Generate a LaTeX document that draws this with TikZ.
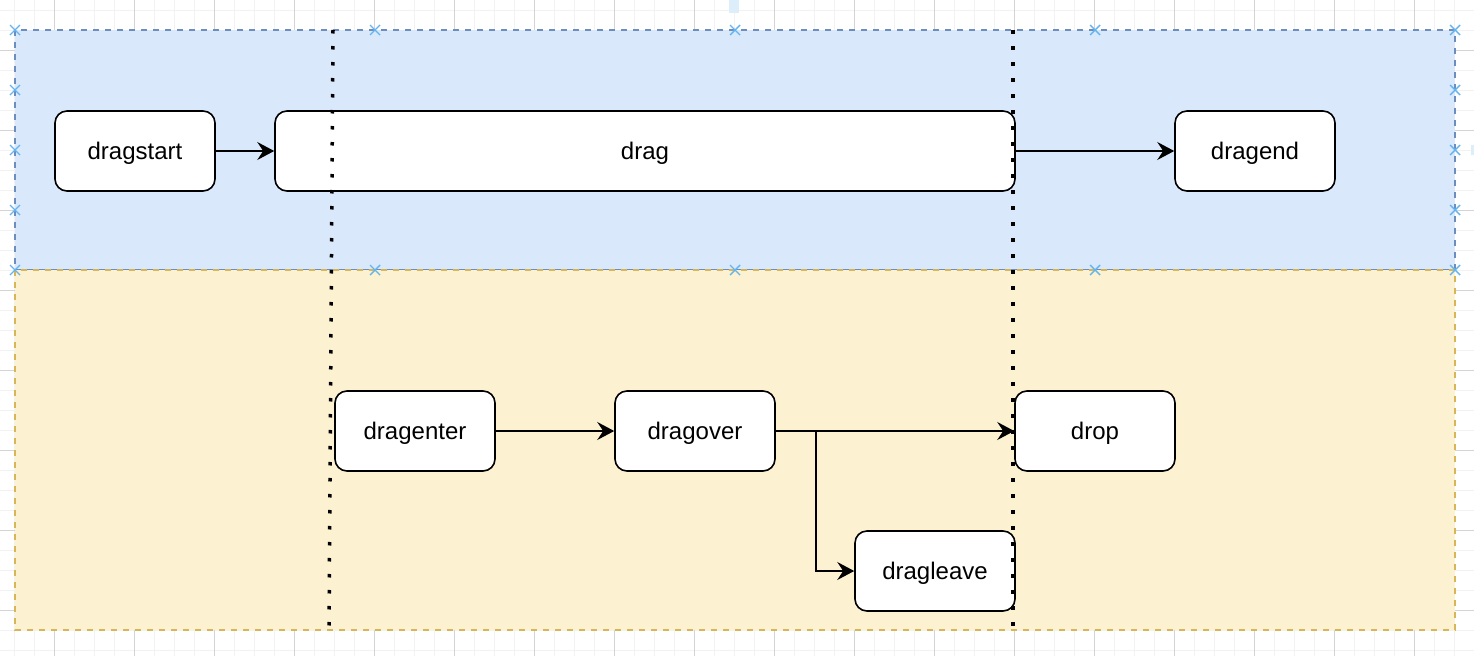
\documentclass[tikz,border=0pt]{standalone}
\usepackage{fontspec}
\setmainfont{Liberation Sans}
\usetikzlibrary{arrows.meta}
\definecolor{bluefill}{HTML}{DAE8FC}
\definecolor{bluedraw}{HTML}{6C8EBF}
\definecolor{yellowfill}{HTML}{FCF1D0}
\definecolor{yellowdraw}{HTML}{D6B656}
\definecolor{handle}{RGB}{100,180,240}
\definecolor{faintblue}{RGB}{220,238,250}
\definecolor{gridminor}{HTML}{F2F2F2}
\definecolor{gridmajor}{HTML}{D4D4D4}
\tikzset{
  evbox/.style={draw=black, line width=1.6pt, fill=white, rounded corners=12pt,
    minimum width=160pt, minimum height=80pt, inner sep=0pt,
    text height=18pt, text depth=2pt,
    font=\fontsize{24}{28}\selectfont},
  arr/.style={line width=1.6pt, -{Stealth[length=17pt,width=18pt,inset=6pt]}},
  lane/.style={line width=1.3pt, dash pattern=on 6pt off 6pt},
  sep/.style={line width=3.5pt, dash pattern=on 3.5pt off 12.5pt},
  gminor/.style={gridminor, line width=1pt},
  gmajor/.style={gridmajor, line width=1pt},
  hmark/.style={handle, line width=1.4pt}
}
\begin{document}
\begin{tikzpicture}[x=1pt,y=-1pt]
\useasboundingbox (0,0) rectangle (1474,656);
% editor grid
\foreach \x in {14,34,...,1474} \draw[gminor] (\x,0) -- (\x,656);
\foreach \y in {10,30,...,650} \draw[gminor] (0,\y) -- (1474,\y);
\foreach \x in {54,134,...,1474} \draw[gmajor] (\x,0) -- (\x,656);
\foreach \y in {50,130,...,650} \draw[gmajor] (0,\y) -- (1474,\y);
\fill[faintblue] (729,0) rectangle (739,13);
\fill[faintblue] (1471,145) rectangle (1474,155);
% lanes
\path[lane, fill=bluefill, draw=bluedraw] (15,30) rectangle (1455,270);
\path[lane, fill=yellowfill, draw=yellowdraw] (15,270) rectangle (1455,630);
% nodes
\node[evbox] (dragstart) at (135,151) {dragstart};
\node[evbox, minimum width=740pt] (drag) at (645,151) {drag};
\node[evbox] (dragend) at (1255,151) {dragend};
\node[evbox] (dragenter) at (415,431) {dragenter};
\node[evbox] (dragover) at (695,431) {dragover};
\node[evbox] (drop) at (1095,431) {drop};
\node[evbox] (dragleave) at (935,571) {dragleave};
% connectors
\draw[arr] (dragstart) -- (drag);
\draw[arr] (drag) -- (dragend);
\draw[arr] (dragenter) -- (dragover);
\draw[arr] (dragover) -- (drop);
\draw[arr] (dragover.east) -- ++(40,0) |- (dragleave.west);
% separators
\coordinate (s1a) at (333,30);
\coordinate (s1b) at (329,630);
\coordinate (s2a) at (1013,30);
\coordinate (s2b) at (1013,630);
\draw[sep] (s1a) -- (s1b);
\draw[sep] (s2a) -- (s2b);
% selection handles
\foreach \p in {(15,30),(375,30),(735,30),(1095,30),(1455,30),
                (15,270),(375,270),(735,270),(1095,270),(1455,270),
                (15,90),(15,150),(15,210),(1455,90),(1455,150),(1455,210)}
{
  \draw[hmark] \p ++(-5,-5) -- ++(10,10);
  \draw[hmark] \p ++(-5,5) -- ++(10,-10);
}
\end{tikzpicture}
\end{document}
